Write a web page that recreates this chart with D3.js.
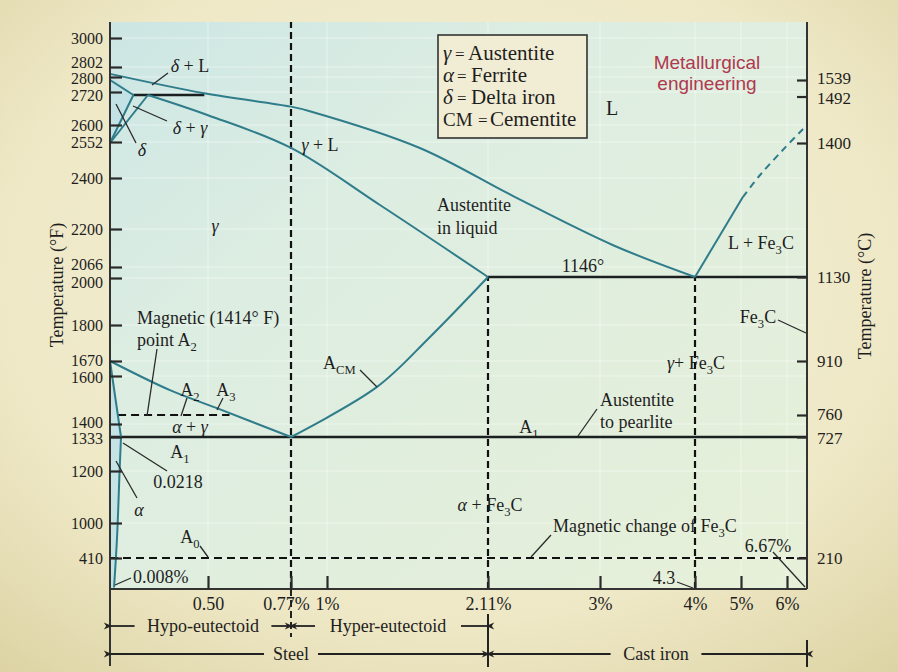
<!DOCTYPE html>
<html><head><meta charset="utf-8">
<script src="https://cdn.jsdelivr.net/npm/d3@7"></script>
<style>body{margin:0;background:#ece6c4}svg{display:block}</style>
</head><body><svg id="c" width="898" height="672"></svg>
<script>
// ---------------- data ----------------
const fTicks = [3000,2802,2800,2720,2600,2552,2400,2200,2066,2000,1800,1670,1600,1400,1333,1200,1000,410];
const cTicks = [1539,1492,1400,1130,910,760,727,210];
const xTicks = [0.5,0.77,1,2.11,3,4.3,5,6];
const xTickLabels = ["0.50","0.77%","1%","2.11%","3%","4%","5%","6%"];
// phase boundaries: [carbon %, temperature °C]
const liquidus     = [[0,1555],[0.48,1500],[0.77,1472],[0.89,1463],[1.64,1390],[2.31,1293],[3.18,1194],[4.3,1130]];
const gammaSolidus = [[0.17,1495],[0.5,1455],[0.77,1390],[1.365,1275],[2.11,1130]];
const deltaSolidus = [[0,1539],[0.09,1495]];
const deltaSolvus  = [[0.09,1495],[0,1400]];
const gammaDelta   = [[0.17,1495],[0,1400]];
const acmLine      = [[0.77,727],[1.345,838],[1.71,973],[2.11,1130]];
const a3Line       = [[0,910],[0.291,829],[0.529,779],[0.77,727]];
const alphaBound   = [[0,910],[0.0218,727]];
const alphaSolvus  = [[0.0218,727],[0.019,580],[0.014,300],[0.008,10]];
const fe3cLiqSolid = [[4.3,1130],[5.04,1291]];
const fe3cLiqDash  = [[5.04,1291],[5.41,1335],[5.91,1386],[6.56,1429]];
const peritectic   = [[0.09,1495],[0.48,1495]];
const eutectic     = [[2.11,1130],[6.67,1130]];
const eutectoid    = [[0,727],[6.67,727]];
const a2Line       = [[0.016,760],[0.57,760]];
const a0Line       = [[0,210],[6.67,210]];
const eutectoidC = 0.77, maxSolubility = 2.11, eutecticC = 4.3, cementiteC = 6.67;
const tTop = 1700, tBottom = 0;

// ---------------- scales (schematic, piecewise) ----------------
const x = d3.scaleLinear()
  .domain([0,0.0218,0.5,0.77,1,2.11,3,4.3,5,6,6.67])
  .range([110,121,208,291,327,488,600,695,741,787,807]);
const yC = d3.scaleLinear()
  .domain([0,210,727,760,910,1130,1400,1495,1539,1649,1700])
  .range([589,558,437,415,361,277,143,95,80,38,22]);
const yF = d3.scaleLinear()
  .domain([32,410,1000,1200,1333,1400,1600,1670,1800,2000,2066,2200,2400,2552,2600,2720,2800,2802,3000,3072])
  .range([589,558,523,471,437,424,376,361,325,278,267,229,178,142,125,92,77,67,38,22]);

const SERIF = "'Liberation Serif','Times New Roman',serif";
const INK = "#1e1e1e";
const TEAL = "#2f7c8b";
const W = 898, H = 672;
const svg = d3.select('#c');
const defs = svg.append('defs');

const rg = defs.append('radialGradient').attr('id','bg').attr('cx','50%').attr('cy','42%').attr('r','78%');
[['0%','#f4f1da'],['65%','#eee8c6'],['100%','#dcd2a2']].forEach(s=>rg.append('stop').attr('offset',s[0]).attr('stop-color',s[1]));
svg.append('rect').attr('width',W).attr('height',H).attr('fill','url(#bg)');

const pg = defs.append('linearGradient').attr('id','pbg').attr('x1','0').attr('y1','0').attr('x2','1').attr('y2','1');
[['0%','#cce6e4'],['30%','#dcede2'],['100%','#e7f0d8']].forEach(s=>pg.append('stop').attr('offset',s[0]).attr('stop-color',s[1]));

const X0 = x(0), X1 = x(cementiteC), YT = yC(tTop), YB = yC(tBottom);
svg.append('rect').attr('x',X0).attr('y',YT).attr('width',X1-X0).attr('height',YB-YT).attr('fill','url(#pbg)');

// faint grid
const grid = svg.append('g').attr('stroke','#ffffff').attr('stroke-opacity',0.45).attr('stroke-width',1);
xTicks.forEach(v=>grid.append('line').attr('x1',x(v)).attr('x2',x(v)).attr('y1',YT).attr('y2',YB));
fTicks.forEach(v=>grid.append('line').attr('x1',X0).attr('x2',X1).attr('y1',yF(v)).attr('y2',yF(v)));

// light region tints
const area = d3.line().x(d=>x(d[0])).y(d=>yC(d[1]));
svg.append('path').attr('d', area([[0,910],...alphaBound.slice(1),...alphaSolvus.slice(1),[0,tBottom]])+'Z')
  .attr('fill','#b9dde6').attr('opacity',0.65);
svg.append('path').attr('d', area([[0,1555],...deltaSolidus.slice(1),...deltaSolvus.slice(1)])+'Z')
  .attr('fill','#b9dde6').attr('opacity',0.6);

// ---------------- lines ----------------
const curve = d3.line().x(d=>x(d[0])).y(d=>yC(d[1])).curve(d3.curveCatmullRom.alpha(0.5));
const straight = d3.line().x(d=>x(d[0])).y(d=>yC(d[1]));
const g = svg.append('g').attr('fill','none');
function draw(data, color, w, dash, gen){
  const p = g.append('path').attr('d',(gen||curve)(data)).attr('stroke',color).attr('stroke-width',w);
  if(dash) p.attr('stroke-dasharray',dash);
  return p;
}
// dashed verticals
draw([[eutectoidC,tBottom],[eutectoidC,tTop]], '#111', 2.2, '7,4', straight);
draw([[maxSolubility,tBottom],[maxSolubility,1130]], '#111', 2.2, '7,4', straight);
draw([[eutecticC,tBottom],[eutecticC,1130]], '#111', 2.2, '7,4', straight);
// dashed horizontals
draw(a0Line, '#111', 2.2, '8,5', straight);
draw(a2Line, '#111', 2.2, '8,5', straight);
// solid black
draw(peritectic, '#1a1f1f', 2.6, null, straight);
draw(eutectic, '#1a1f1f', 2.6, null, straight);
draw(eutectoid, '#1a1f1f', 2.6, null, straight);
// teal boundaries
[liquidus, gammaSolidus, acmLine, a3Line, alphaSolvus].forEach(d=>draw(d, TEAL, 2));
[deltaSolidus, deltaSolvus, gammaDelta, alphaBound, fe3cLiqSolid].forEach(d=>draw(d, TEAL, 2, null, straight));
draw(fe3cLiqDash, TEAL, 2, '7,5');

// ---------------- axes ----------------
const axG = svg.append('g').attr('stroke','#333').attr('stroke-width',2);
axG.append('line').attr('x1',X0).attr('x2',X0).attr('y1',YT).attr('y2',666);
axG.append('line').attr('x1',X1).attr('x2',X1).attr('y1',YT).attr('y2',YB);
axG.append('line').attr('x1',X0).attr('x2',X1).attr('y1',YB).attr('y2',YB);

const nudge = {2802:-5, 2800:1, 2720:3, 2066:-3, 2000:4, 1670:-1, 1600:1, 1400:-2, 1333:1};
const left = svg.append('g').attr('transform',`translate(${X0},0)`)
  .call(d3.axisLeft(yF).tickValues(fTicks).tickSizeInner(-12).tickSizeOuter(0).tickPadding(7).tickFormat(d3.format('d')));
left.select('.domain').remove();
left.selectAll('.tick line').attr('stroke','#2a2a2a').attr('stroke-width',2.2);
left.selectAll('.tick text').attr('font-family',SERIF).attr('font-size',16).attr('fill',INK)
  .attr('dy',d=> (0.32*16 + (nudge[d]||0))+'px');

const cNudge = {1539:-2, 1492:2, 760:-1, 727:1};
const right = svg.append('g').attr('transform',`translate(${X1},0)`)
  .call(d3.axisRight(yC).tickValues(cTicks).tickSizeInner(-10).tickSizeOuter(0).tickPadding(10).tickFormat(d3.format('d')));
right.select('.domain').remove();
right.selectAll('.tick line').attr('stroke','#2a2a2a').attr('stroke-width',2.2);
right.selectAll('.tick text').attr('font-family',SERIF).attr('font-size',17).attr('fill',INK)
  .attr('dy',d=> (0.32*17 + (cNudge[d]||0))+'px');

const bottom = svg.append('g').attr('transform',`translate(0,${YB})`)
  .call(d3.axisBottom(x).tickValues(xTicks).tickSizeInner(-13).tickSizeOuter(0).tickPadding(8)
    .tickFormat((d,i)=>xTickLabels[i]));
bottom.select('.domain').remove();
bottom.selectAll('.tick line').attr('stroke','#2a2a2a').attr('stroke-width',2.2);
bottom.selectAll('.tick text').attr('font-family',SERIF).attr('font-size',18).attr('fill',INK)
  .attr('dx',d=> d===0.77 ? '-5px' : '0px');

// axis titles
svg.append('text').attr('transform','translate(63,285) rotate(-90)').attr('text-anchor','middle')
  .attr('font-family',SERIF).attr('font-size',18).attr('fill',INK).text('Temperature (°F)');
svg.append('text').attr('transform','translate(871,296) rotate(-90)').attr('text-anchor','middle')
  .attr('font-family',SERIF).attr('font-size',18).attr('fill',INK).text('Temperature (°C)');

// ---------------- text helpers ----------------
function rich(px, py, str, anchor, size){
  size = size||18;
  const t = svg.append('text').attr('x',px).attr('y',py).attr('text-anchor',anchor||'start')
    .attr('font-family',SERIF).attr('font-size',size).attr('fill',INK);
  const parts = str.split(/(_\{[^}]*\}|\*[^*]*\*)/).filter(s=>s.length);
  let shift = 0;
  parts.forEach(s=>{
    let txt=s, sub=false, it=false;
    if(s.startsWith('_{')){txt=s.slice(2,-1); sub=true;}
    else if(s.startsWith('*')){txt=s.slice(1,-1); it=true;}
    const ts = t.append('tspan').text(txt);
    const target = sub ? size*0.3 : 0;
    if(target!==shift){ts.attr('dy',target-shift); shift=target;}
    if(sub) ts.attr('font-size',size*0.7);
    if(it) ts.attr('font-style','italic');
  });
  return t;
}
function leader(a,b,c,d){
  svg.append('line').attr('x1',a).attr('y1',b).attr('x2',c).attr('y2',d)
    .attr('stroke','#2a2a2a').attr('stroke-width',1.3);
}

// region labels (baseline = centre + 6)
rich(190,72,'*δ* + L','middle');
rich(190,134,'*δ* + *γ*','middle');
rich(142,156,'*δ*','middle');
rich(215,232,'*γ*','middle');
rich(320,151,'*γ* + L','middle');
rich(437,211,'Austentite');
rich(437,234,'in liquid');
rich(583,272,'1146°','middle');
rich(612,115,'L','middle',20);
rich(761,249,'L + Fe_{3}C','middle');
rich(758,323,'Fe_{3}C','middle');
rich(667,369,'*γ*+ Fe_{3}C');
rich(323,369,'A_{CM}');
rich(600,406,'Austentite');
rich(600,428,'to pearlite');
rich(529,433,'A_{1}','middle');
rich(137,324,'Magnetic (1414° F)');
rich(137,346,'point A_{2}');
rich(190,396,'A_{2}','middle');
rich(226,396,'A_{3}','middle');
rich(190,433,'*α* + *γ*','middle');
rich(180,458,'A_{1}','middle');
rich(178,488,'0.0218','middle');
rich(139,516,'*α*','middle');
rich(190,543,'A_{0}','middle');
rich(133,583,'0.008%');
rich(490,511,'*α* + Fe_{3}C','middle');
rich(553,532,'Magnetic change of Fe_{3}C');
rich(768,552,'6.67%','middle');
rich(664,584,'4.3','middle');

leader(168,73,152,85);
leader(167,121,133,106);
leader(136,143,116,104);
leader(360,370,377,387);
leader(597,409,578,436);
leader(157,349,147,416);
leader(187,398,181,416);
leader(223,398,217,410);
leader(167,471,123,443);
leader(137,498,116,461);
leader(200,546,208,557);
leader(131,578,115,585);
leader(551,535,531,557);
leader(773,552,805,587);
leader(677,582,693,588);
leader(778,320,806,333);

// legend
svg.append('rect').attr('x',438).attr('y',35).attr('width',149).attr('height',103)
  .attr('fill','#f1edd4').attr('stroke','#333').attr('stroke-width',1.6);
const legendSymbols = ['*γ*','*α*','*δ*','CM'];
const legendNames = ['Austentite','Ferrite','Delta iron','Cementite'];
const legCols = [[455,468],[457,471],[457,471],[478,490]];
legendSymbols.forEach((s,i)=>{
  const by = 60 + i*22;
  rich(443,by,s,'start',i===3?19:21);
  rich(legCols[i][0],by,'=','start',17);
  rich(legCols[i][1],by,legendNames[i],'start',21);
});

// watermark
['Metallurgical','engineering'].forEach((s,i)=>{
  svg.append('text').attr('x',707).attr('y',69+i*21).attr('text-anchor','middle')
    .attr('font-family',"'Liberation Sans',Arial,sans-serif").attr('font-size',19)
    .attr('fill','#b0384f').text(s);
});

// ---------------- bottom range arrows ----------------
defs.append('marker').attr('id','ah').attr('viewBox','0 0 10 10').attr('refX',1).attr('refY',5)
  .attr('markerWidth',10).attr('markerHeight',8).attr('markerUnits','userSpaceOnUse')
  .attr('orient','auto-start-reverse')
  .append('path').attr('d','M0,5 L10,0.5 L7,5 L10,9.5 Z').attr('fill','#222');
function arrowSpan(xa, xb, yy, label, cx){
  const half = label.length*4.6 + 4;
  svg.append('line').attr('x1',xa+1).attr('x2',cx-half).attr('y1',yy).attr('y2',yy)
    .attr('stroke','#222').attr('stroke-width',1.8).attr('marker-start','url(#ah)');
  svg.append('line').attr('x1',cx+half).attr('x2',xb-1).attr('y1',yy).attr('y2',yy)
    .attr('stroke','#222').attr('stroke-width',1.8).attr('marker-end','url(#ah)');
  rich(cx, yy+6, label, 'middle', 18);
}
const xe = x(eutectoidC), xs = x(maxSolubility);
arrowSpan(X0, xe, 626, 'Hypo-eutectoid', 203);
arrowSpan(xe, xs, 626, 'Hyper-eutectoid', 388);
arrowSpan(X0, xs, 654, 'Steel', 291);
arrowSpan(xs, X1, 654, 'Cast iron', 656);
svg.append('line').attr('x1',xe).attr('x2',xe).attr('y1',YB).attr('y2',637).attr('stroke','#222').attr('stroke-width',2).attr('stroke-dasharray','7,4');
svg.append('line').attr('x1',xs).attr('x2',xs).attr('y1',614).attr('y2',667).attr('stroke','#222').attr('stroke-width',2);
svg.append('line').attr('x1',X1).attr('x2',X1).attr('y1',640).attr('y2',667).attr('stroke','#222').attr('stroke-width',2);
</script></body></html>
